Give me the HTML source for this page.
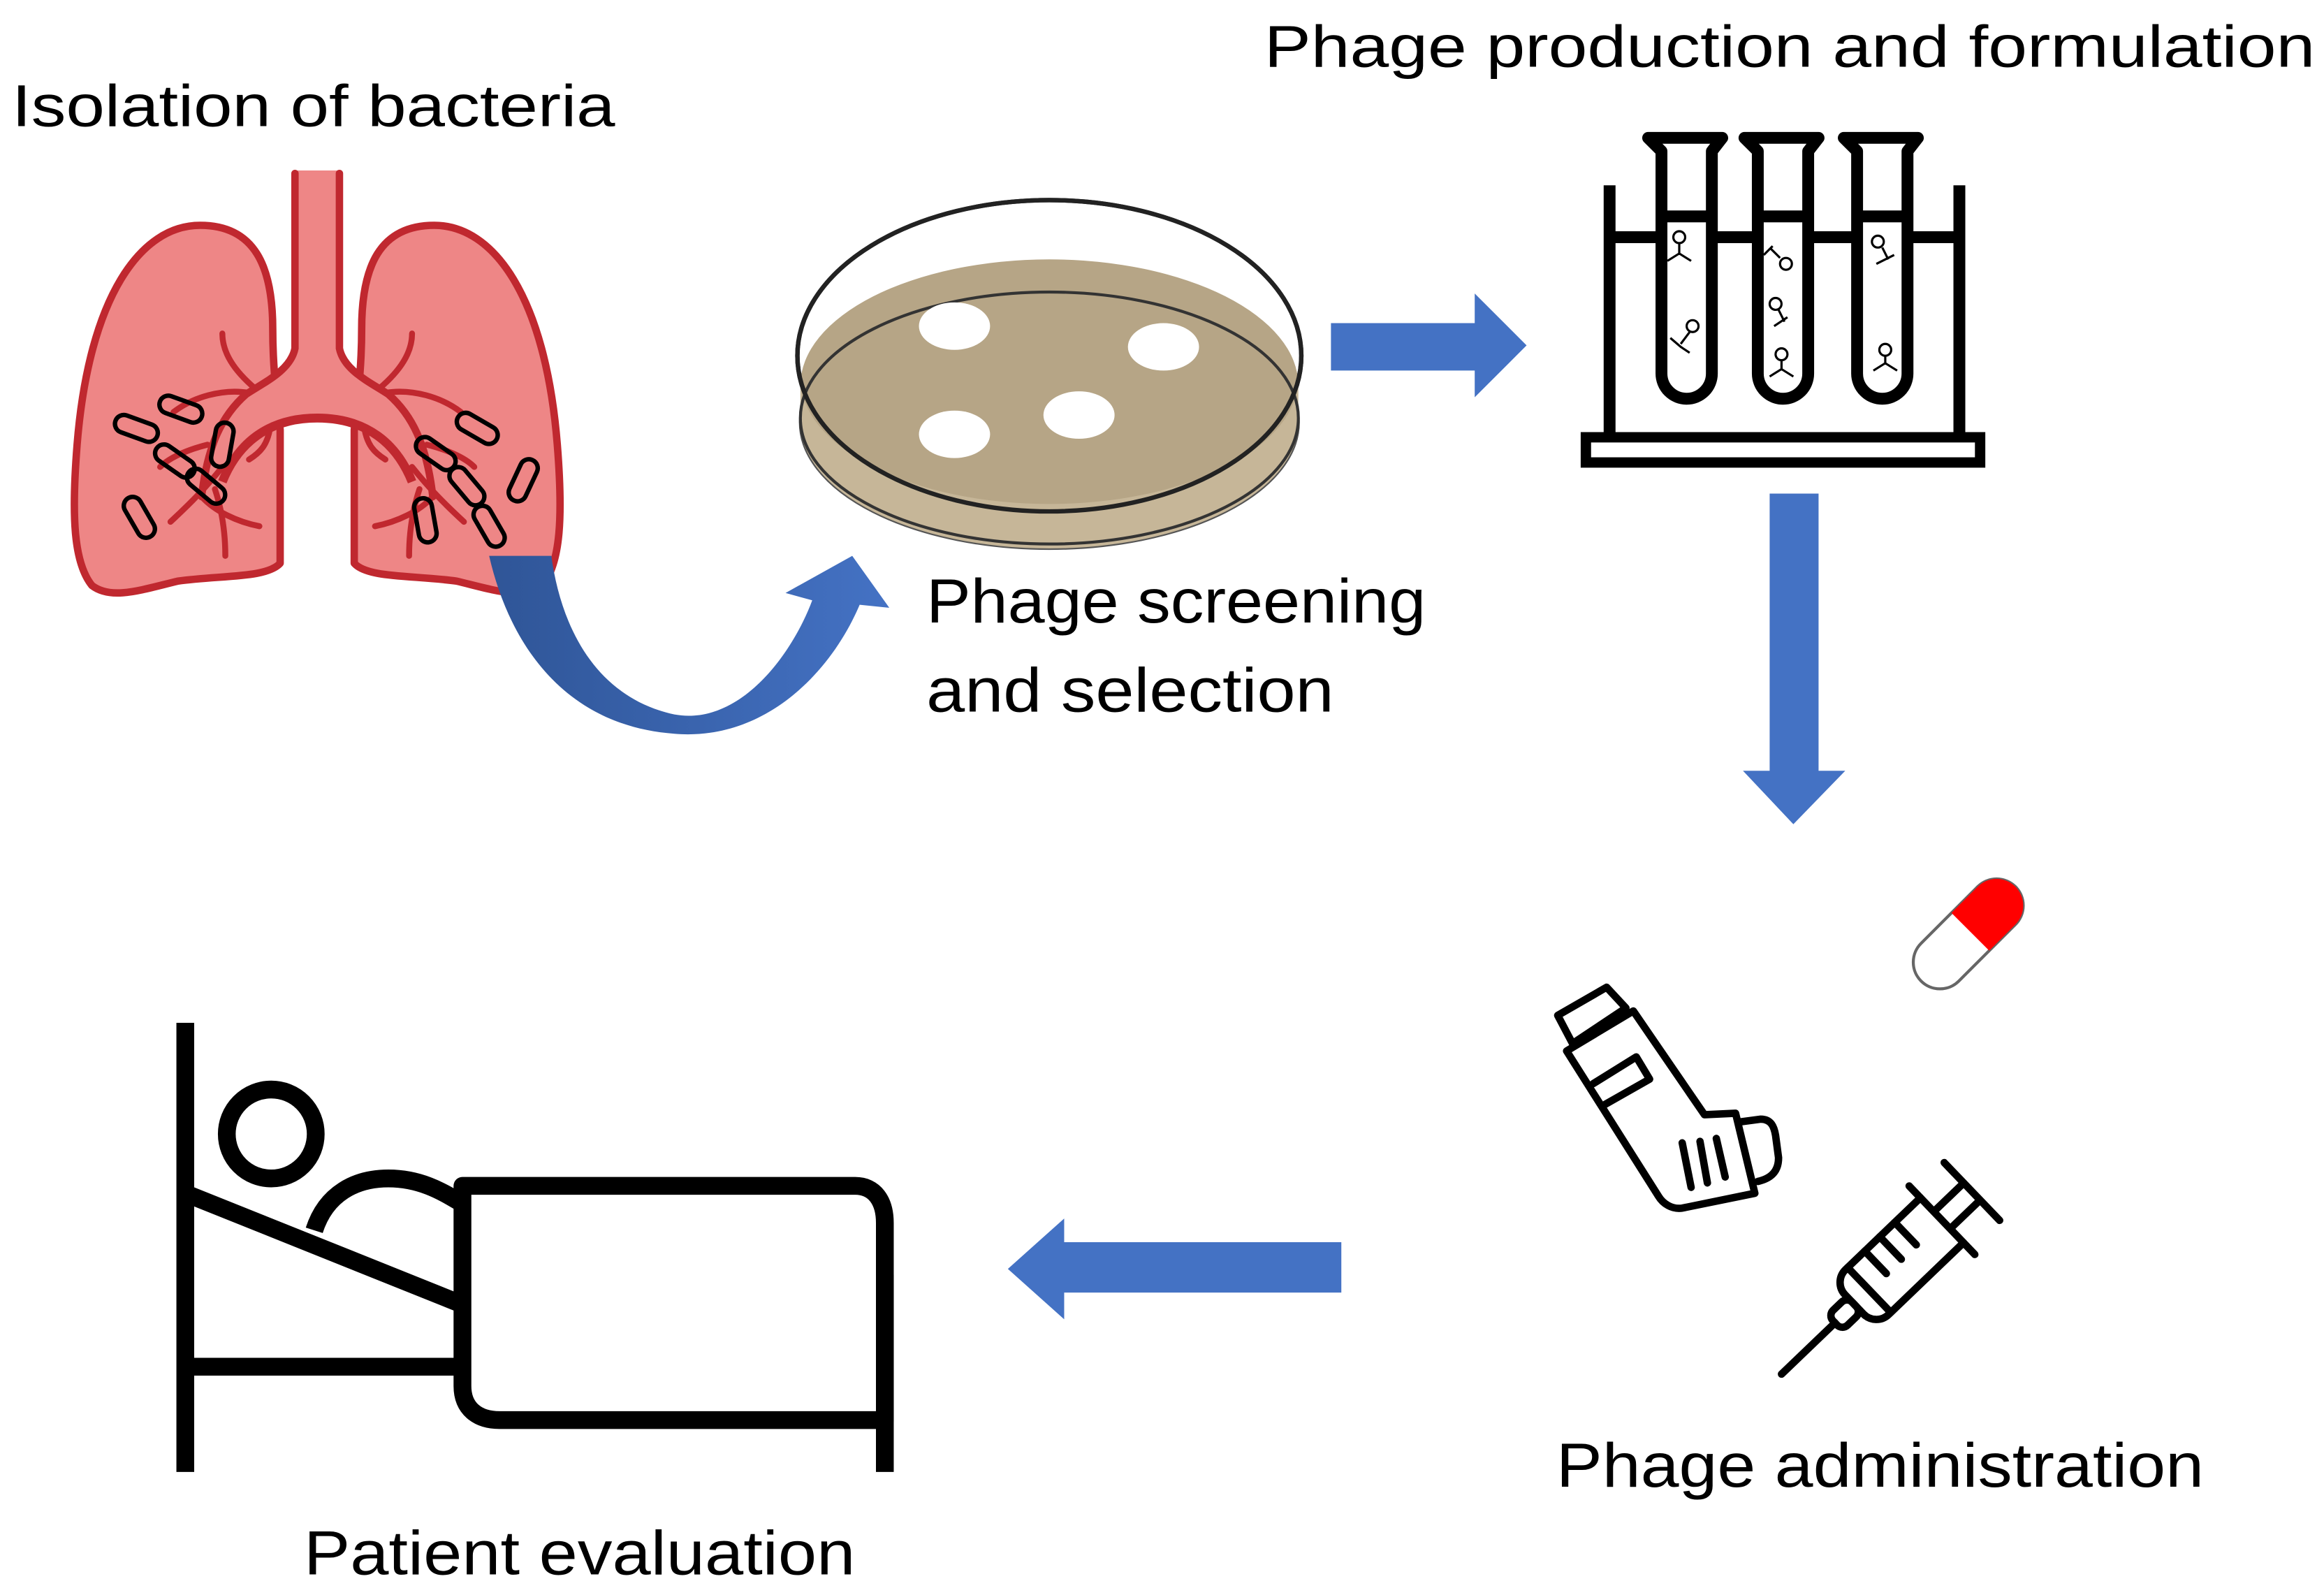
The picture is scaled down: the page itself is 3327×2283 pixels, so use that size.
<!DOCTYPE html>
<html><head><meta charset="utf-8"><style>
html,body{margin:0;padding:0;background:#fff;}
svg{display:block;}
text{font-family:"Liberation Sans",sans-serif;fill:#000;}
</style></head><body>
<svg width="3327" height="2283" viewBox="0 0 1568 1076" xmlns="http://www.w3.org/2000/svg">
<rect width="1568" height="1076" fill="#fff"/>
<!-- Texts -->
<text x="8" y="85" font-size="40" textLength="407" lengthAdjust="spacingAndGlyphs">Isolation of bacteria</text>
<text x="853" y="45" font-size="40" textLength="709" lengthAdjust="spacingAndGlyphs">Phage production and formulation</text>
<text x="625" y="420" font-size="42" textLength="337" lengthAdjust="spacingAndGlyphs">Phage screening</text>
<text x="625" y="480" font-size="42" textLength="275" lengthAdjust="spacingAndGlyphs">and selection</text>
<text x="1050" y="1003" font-size="42" textLength="437" lengthAdjust="spacingAndGlyphs">Phage administration</text>
<text x="205" y="1062" font-size="42" textLength="372" lengthAdjust="spacingAndGlyphs">Patient evaluation</text>

<!-- Lungs -->
<g stroke="#c0282f" stroke-width="5" fill="#ee8686" stroke-linejoin="round">
<path d="M184 222 C184 180 172 152 135 152 C95 152 60 200 52 300 C48 350 50 380 62 395 C75 405 95 398 120 392 C150 388 180 390 189 380 L189 290 C187 270 184 250 184 222Z"/>
<path d="M244 222 C244 180 256 152 293 152 C333 152 368 200 376 300 C380 350 378 380 366 395 C353 405 333 398 308 392 C278 388 248 390 239 380 L239 290 C241 270 244 250 244 222Z"/>
</g>
<path d="M199 115 H229 V235 C232 250 250 258 262 266 L262 300 C250 290 236 284 214 284 C192 284 178 290 166 300 L166 266 C178 258 196 250 199 235Z" fill="#ee8686"/>
<path d="M199 117 V235 C196 250 178 258 166 266 C150 280 140 300 136 335 M229 117 V235 C232 250 250 258 262 266 C278 280 288 300 292 335" stroke="#c0282f" stroke-width="5" fill="none" stroke-linecap="round"/>
<path d="M150 325 C160 300 180 282 214 282 C248 282 268 300 278 325" stroke="#c0282f" stroke-width="6" fill="none"/>
<path d="M172 262 C158 250 150 238 150 225 M168 265 C150 262 130 268 117 278 M256 262 C270 250 278 238 278 225 M260 265 C278 262 298 268 311 278 M140 300 C128 303 115 308 108 315 M288 300 C300 303 313 308 320 315 M168 310 C176 305 180 300 182 290 M260 310 C252 305 248 300 246 290 M150 315 C138 330 128 340 115 352 M278 315 C290 330 300 340 313 352 M145 330 C150 345 152 360 152 375 M283 330 C278 345 276 360 276 375 M136 335 C145 345 160 352 175 355 M292 335 C283 345 268 352 253 355" stroke="#c0282f" stroke-width="4" fill="none" stroke-linecap="round"/>
<g fill="none" stroke="#000" stroke-width="3">
<rect x="107" y="270" width="30" height="12" rx="6" transform="rotate(20 122 276)"/>
<rect x="77" y="283" width="30" height="12" rx="6" transform="rotate(20 92 289)"/>
<rect x="103" y="305" width="30" height="12" rx="6" transform="rotate(35 118 311)"/>
<rect x="124" y="322" width="30" height="12" rx="6" transform="rotate(40 139 328)"/>
<rect x="88" y="334" width="12" height="30" rx="6" transform="rotate(-30 94 349)"/>
<rect x="144" y="285" width="12" height="30" rx="6" transform="rotate(10 150 300)"/>
<rect x="279" y="300" width="30" height="12" rx="6" transform="rotate(35 294 306)"/>
<rect x="307" y="283" width="30" height="12" rx="6" transform="rotate(30 322 289)"/>
<rect x="300" y="322" width="30" height="12" rx="6" transform="rotate(50 315 328)"/>
<rect x="347" y="309" width="12" height="30" rx="6" transform="rotate(25 353 324)"/>
<rect x="281" y="336" width="12" height="30" rx="6" transform="rotate(-10 287 351)"/>
<rect x="324" y="340" width="12" height="30" rx="6" transform="rotate(-30 330 355)"/>
</g>

<!-- Curved arrow -->
<defs><linearGradient id="cg" x1="0" x2="1"><stop offset="0" stop-color="#2f5597"/><stop offset="1" stop-color="#4472c4"/></linearGradient></defs>
<path d="M330 375 L372 375 C378 420 400 470 455 482 C500 490 535 440 548 405 L530 400 L575 375 L600 410 L580 408 C560 455 515 500 455 495 C385 490 345 440 330 375Z" fill="url(#cg)"/>

<!-- Petri dish -->
<ellipse cx="708" cy="285" rx="168" ry="85" fill="#c9bba3" stroke="#555" stroke-width="2"/>
<ellipse cx="708" cy="240" rx="170" ry="105" fill="#fff" stroke="#222" stroke-width="3"/>
<ellipse cx="708" cy="260" rx="168" ry="85" fill="#b6a586"/>
<path d="M540 255 A168 85 0 0 0 876 255 L876 285 A168 85 0 0 1 540 285Z" fill="#c6b698"/>
<ellipse cx="708" cy="282" rx="168" ry="85" fill="none" stroke="#333" stroke-width="2"/>
<ellipse cx="708" cy="240" rx="170" ry="105" fill="none" stroke="#222" stroke-width="3"/>
<g fill="#fff"><ellipse cx="644" cy="220" rx="24" ry="16"/><ellipse cx="785" cy="234" rx="24" ry="16"/><ellipse cx="728" cy="280" rx="24" ry="16"/><ellipse cx="644" cy="293" rx="24" ry="16"/></g>

<!-- Right arrow -->
<path d="M898 218 L995 218 L995 198 L1030 233 L995 268 L995 250 L898 250Z" fill="#4472c4"/>

<!-- Test tubes -->
<g stroke="#000" stroke-width="8" fill="none">
<path d="M1086 125 V300 M1322 125 V300 M1086 160 H1322"/>
<rect x="1070" y="295" width="266" height="17" fill="#fff" stroke-width="7"/>
</g>
<g stroke="#000" stroke-width="8" fill="#fff" stroke-linejoin="round">
<path d="M1112 93 H1162 L1155 102 V252 A17 17 0 0 1 1121 252 V102Z"/>
<path d="M1177 93 H1227 L1220 102 V252 A17 17 0 0 1 1186 252 V102Z"/>
<path d="M1244 93 H1294 L1287 102 V252 A17 17 0 0 1 1253 252 V102Z"/>
<path d="M1121 146 H1155 M1186 146 H1220 M1253 146 H1287"/>
</g>
<g stroke="#000" stroke-width="1.5" fill="none">
<circle cx="1133" cy="160" r="4"/><path d="M1133 164 V172 M1125 176 L1133 171 L1141 176"/>
<circle cx="1142" cy="220" r="4"/><path d="M1140 224 L1134 232 M1127 228 L1134 234 L1140 238"/>
<circle cx="1205" cy="178" r="4"/><path d="M1201 174 L1195 168 M1190 172 L1196 166"/>
<circle cx="1198" cy="205" r="4"/><path d="M1200 209 L1204 217 M1197 220 L1206 214"/>
<circle cx="1202" cy="239" r="4"/><path d="M1202 243 V250 M1194 254 L1202 249 L1210 254"/>
<circle cx="1267" cy="163" r="4"/><path d="M1270 167 L1274 175 M1266 178 L1278 172"/>
<circle cx="1272" cy="236" r="4"/><path d="M1272 240 V246 M1264 250 L1272 245 L1280 250"/>
</g>

<!-- Down arrow -->
<path d="M1194 333 H1227 V520 H1245 L1210 556 L1176 520 H1194Z" fill="#4472c4"/>

<!-- Pill -->
<g transform="rotate(-45 1328 630)">
<rect x="1283" y="612" width="90" height="36" rx="18" fill="#fff" stroke="#666" stroke-width="2"/>
<path d="M1330 612 H1355 A18 18 0 0 1 1355 648 H1330Z" fill="#f00"/>
</g>

<!-- Inhaler -->
<g stroke="#000" stroke-width="5" fill="none" stroke-linejoin="round" stroke-linecap="round">
<path d="M1051 685 L1084 666 L1097 680 L1061 704Z"/>
<path d="M1057 709 L1102 682 L1150 752 L1171 751 L1184 805 L1135 815 C1128 816 1122 812 1119 807 Z"/>
<path d="M1075 731 L1104 713 L1113 728 L1083 745"/>
<path d="M1173 757 L1188 755 C1195 755 1197 760 1198 766 L1200 781 C1200 790 1195 795 1186 797"/>
<path d="M1135 771 L1141 801 M1147 770 L1152 798 M1158 768 L1164 794"/>
</g>

<!-- Syringe -->
<g transform="translate(1202 927) rotate(-43.8)" stroke="#000" stroke-width="5" fill="none" stroke-linecap="round" stroke-linejoin="round">
<path d="M0 0 H50"/>
<rect x="50" y="-7" width="18" height="14" rx="5"/>
<path d="M150 -21 H80 A12 12 0 0 0 68 -9 V9 A12 12 0 0 0 80 21 H150"/>
<path d="M82 -21 V21 M98 -21 V0 M112 -21 V0 M126 -21 V0"/>
<path d="M150 -32 V32 M150 -8 H178 M150 8 H178 M178 -27 V27"/>
</g>

<!-- Left arrow -->
<path d="M905 838 H718 V822 L680 856 L718 890 V872 H905Z" fill="#4472c4"/>

<!-- Bed -->
<g stroke="#000" stroke-width="12" fill="none" stroke-linejoin="round">
<path d="M125 690 V993 M597 860 V993 M125 922 H312"/>
<path d="M125 805 L312 880"/>
<path d="M212 830 C220 805 240 795 262 795 C285 795 300 805 312 812"/>
<path d="M312 800 H577 C590 800 597 810 597 825 V958 H337 C322 958 312 950 312 935Z"/>
<circle cx="183" cy="765" r="30"/>
</g>
</svg>
</body></html>
